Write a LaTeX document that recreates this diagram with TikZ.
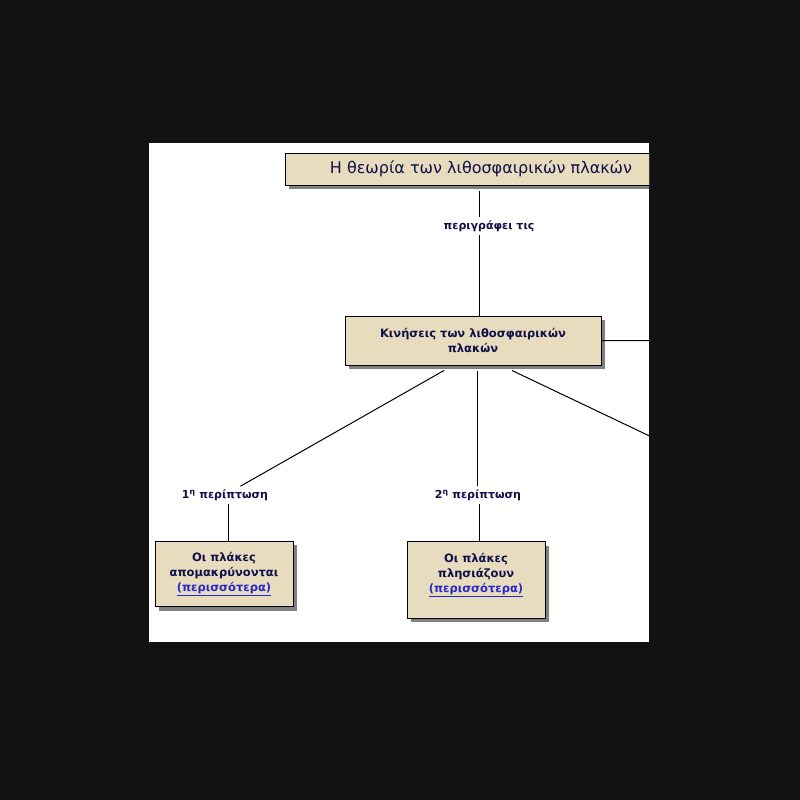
\documentclass[tikz,border=0pt]{standalone}
\usepackage{fontspec}
\setmainfont{DejaVu Sans}
\usetikzlibrary{shadows,calc}
\definecolor{parchment}{HTML}{E8DCBE}
\definecolor{inkblue}{HTML}{10104A}
\definecolor{linkblue}{HTML}{2828C8}
\tikzset{
	plate/.style={draw=black, line width=1pt, fill=parchment, align=center, text=inkblue,
		font=\fontsize{11.5}{15}\selectfont\bfseries, inner xsep=4pt, inner ysep=11pt,
		general shadow={fill=gray, shadow xshift=4pt, shadow yshift=-4pt}},
	relation/.style={text=inkblue, font=\fontsize{11}{13}\selectfont\bfseries, inner sep=3pt},
	link/.style={line width=1pt}
}
\newcommand{\morelink}{\textcolor{linkblue}{\underline{(περισσότερα)}}}

\begin{document}
\begin{tikzpicture}[x=1pt,y=-1pt]
	\fill[black!93] (0,0) rectangle (800,800);
	\fill[white] (149,143) rectangle (649,642);
	\begin{scope}
	\clip (149,143) rectangle (649,642);
	% boxes
	\node[plate, minimum width=392pt, minimum height=32pt, inner ysep=4pt, font=\fontsize{16}{18}\selectfont] (theory) at (481,169) {Η θεωρία των λιθοσφαιρικών πλακών};
	\node[plate, minimum width=256pt, minimum height=49pt, inner ysep=4pt] (motions) at (473,340.5) {Κινήσεις των λιθοσφαιρικών\\πλακών};
	\node[plate, minimum width=138pt] (apart) at (224,574) {Οι πλάκες\\απομακρύνονται\\\morelink};
	\node[plate, minimum width=138pt] (closer) at (476,580) {Οι πλάκες\\πλησιάζουν\\\morelink\\\mbox{}};
	% relations
	\node[relation] (describes) at (489,226) {περιγράφει τις};
	\node[relation] (case1) at (225,495) {1\textsuperscript{η} περίπτωση};
	\node[relation] (case2) at (478,495) {2\textsuperscript{η} περίπτωση};
	\coordinate (spine) at (479,0);
	\coordinate (leftspine) at (228,0);
	\coordinate (offright) at (700,341);
	\coordinate (offdiag) at (700,460);
	\coordinate (m1) at ($(motions.south)+(-29,5)$);
	\coordinate (m2) at ($(motions.south)+(4,5)$);
	\coordinate (m3) at ($(motions.south)+(39,5)$);
	% connectors
	\draw[link] ($(theory.south -| spine)+(0,5)$) -- (describes.north -| spine);
	\draw[link] (describes.south -| spine) -- (motions.north -| spine);
	\draw[link] (motions.east) -- (offright);
	\draw[link] (m1) -- (case1);
	\draw[link] (m2) -- (m2 |- case2.north);
	\draw[link] (m3) -- (offdiag);
	\draw[link] (case1.south -| leftspine) -- (apart.north -| leftspine);
	\draw[link] (case2.south -| spine) -- (closer.north -| spine);
	\end{scope}
\end{tikzpicture}
\end{document}
